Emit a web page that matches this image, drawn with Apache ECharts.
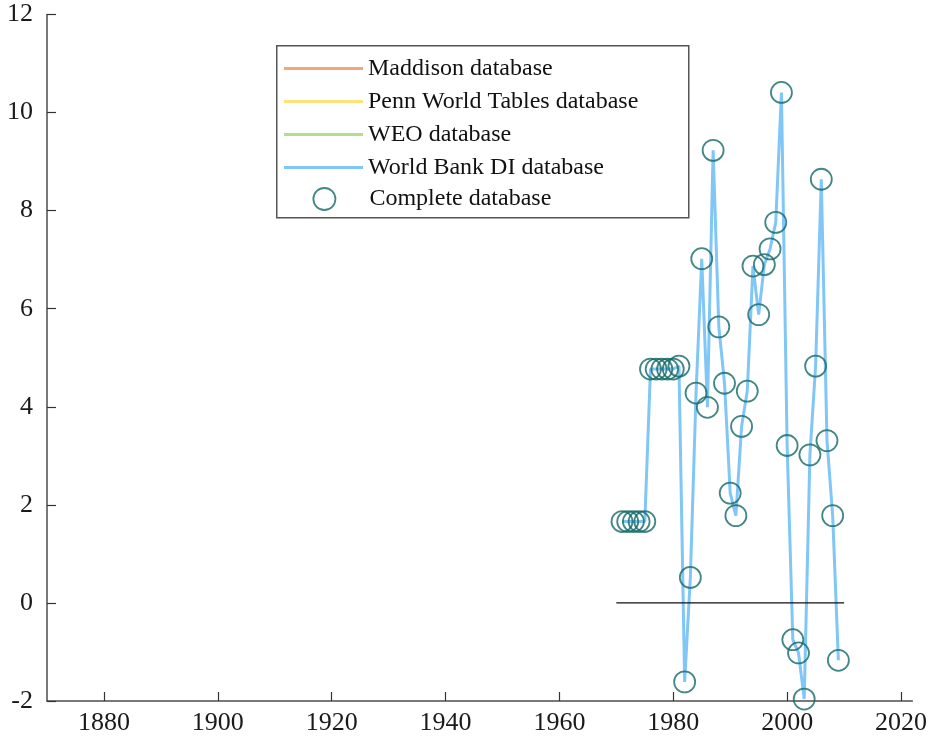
<!DOCTYPE html>
<html>
<head>
<meta charset="utf-8">
<script src="https://cdn.jsdelivr.net/npm/echarts@6/dist/echarts.min.js"></script>
<style>
html,body{margin:0;padding:0;background:#fff;}
#chart{width:930px;height:745px;}
</style>
</head>
<body>
<div id="chart"></div>
<script>
const years = [1971,1972,1973,1974,1975,1976,1977,1978,1979,1980,
  1981,1982,1983,1984,1985,1986,1987,1988,1989,1990,
  1991,1992,1993,1994,1995,1996,1997,1998,1999,2000,
  2001,2002,2003,2004,2005,2006,2007,2008,2009];
const worldBank = [1.66,1.66,1.66,1.66,1.66,4.77,4.77,4.77,4.77,4.77,
  4.83,-1.61,0.52,4.28,7.02,3.99,9.23,5.63,4.48,2.24,
  1.78,3.60,4.32,6.87,5.88,6.90,7.22,7.76,10.41,3.21,
  -0.75,-1.02,-1.96,3.02,4.83,8.64,3.31,1.78,-1.17];
const complete = worldBank.slice();
const maddison = [];
const penn = [];
const weo = [];
const zeroLineYears = [1970, 2010];
const zeroLineValues = [0, 0];
const xTicks = [1880,1900,1920,1940,1960,1980,2000,2020];
const yTicks = [-2,0,2,4,6,8,10,12];
const seriesNames = ['Maddison database','Penn World Tables database','WEO database','World Bank DI database','Complete database'];

const FONT = 'Liberation Serif';
const colors = {
  maddison: '#F4A57E',
  penn: '#FDE27A',
  weo: '#B5DE8C',
  wb: '#80C6F7',
  complete: '#146966'
};

const pair = (xs, ys) => xs.map((x, i) => [x, ys[i]]);

const chart = echarts.init(document.getElementById('chart'), null, {renderer: 'canvas'});
chart.setOption({
  backgroundColor: '#fff',
  animation: false,
  grid: {left: 47, right: 14, top: 14.5, bottom: 44, containLabel: false},
  xAxis: {
    type: 'value', min: 1870, max: 2022,
    axisLine: {show: true, onZero: false, lineStyle: {color: '#4d4d4d', width: 1.5}},
    axisTick: {show: true, inside: true, length: 9, customValues: xTicks, lineStyle: {color: '#333', width: 1.2}},
    axisLabel: {customValues: xTicks, formatter: v => String(v), fontFamily: FONT, fontSize: 26, color: '#1a1a1a', margin: 9},
    splitLine: {show: false}
  },
  yAxis: {
    type: 'value', min: yTicks[0], max: yTicks[yTicks.length-1], interval: 2,
    axisLine: {show: true, lineStyle: {color: '#4d4d4d', width: 1.5}},
    axisTick: {show: true, inside: true, length: 9, lineStyle: {color: '#333', width: 1.2}},
    axisLabel: {fontFamily: FONT, fontSize: 26, color: '#1a1a1a', margin: 14},
    splitLine: {show: false}
  },
  legend: [
    {
      data: seriesNames.slice(0, 4),
      orient: 'vertical', left: 284, top: 54.5, padding: 0,
      itemWidth: 79, itemHeight: 3, itemGap: 5, icon: 'rect',
      selectedMode: false,
      textStyle: {fontFamily: FONT, fontSize: 24, color: '#111', lineHeight: 28}
    },
    {
      data: [{name: seriesNames[4], icon: 'circle', itemStyle: {color: 'transparent', borderColor: colors.complete, borderWidth: 1.8}}],
      orient: 'vertical', left: 312.5, top: 185, padding: 0,
      itemWidth: 22, itemHeight: 22, selectedMode: false,
      textStyle: {fontFamily: FONT, fontSize: 24, color: '#111', lineHeight: 28, padding: [0, 0, 0, 29]}
    }
  ],
  graphic: [{
    type: 'rect', left: 276, top: 45, z: 0,
    shape: {width: 412, height: 172},
    style: {fill: '#fff', stroke: '#555', lineWidth: 1.5}
  }],
  series: [
    {name: seriesNames[0], type: 'line', data: maddison, color: colors.maddison, showSymbol: false, lineStyle: {width: 3}},
    {name: seriesNames[1], type: 'line', data: penn, color: colors.penn, showSymbol: false, lineStyle: {width: 3}},
    {name: seriesNames[2], type: 'line', data: weo, color: colors.weo, showSymbol: false, lineStyle: {width: 3}},
    {name: seriesNames[3], type: 'line', data: pair(years, worldBank), color: colors.wb, showSymbol: false,
      lineStyle: {width: 3, color: colors.wb}, z: 2},
    {name: 'zero', type: 'line', data: pair(zeroLineYears, zeroLineValues), showSymbol: false,
      lineStyle: {width: 1.2, color: '#111'}, z: 3, silent: true},
    {name: seriesNames[4], type: 'scatter', data: pair(years, complete), symbol: 'circle', symbolSize: 21,
      itemStyle: {color: 'transparent', borderColor: colors.complete, borderWidth: 1.8}, z: 4}
  ]
});
</script>
</body>
</html>
